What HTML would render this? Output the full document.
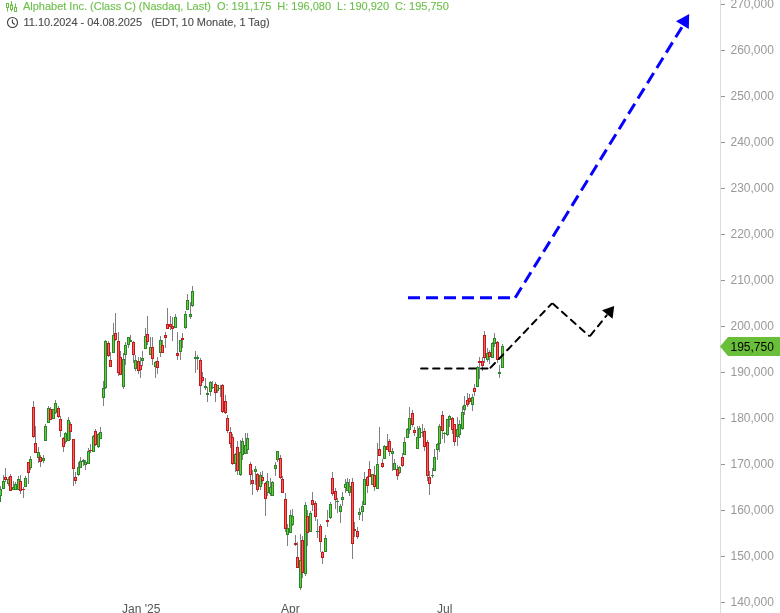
<!DOCTYPE html>
<html lang="de"><head><meta charset="utf-8"><title>Alphabet Inc. (Class C) Chart</title>
<style>
html,body{margin:0;padding:0;background:#fff;}
body{width:780px;height:613px;overflow:hidden;position:relative;font-family:"Liberation Sans",Arial,sans-serif;font-size:12px;}
.t{position:absolute;white-space:pre;line-height:14px;font-size:11px;letter-spacing:-0.012px;-webkit-text-stroke:0.12px currentColor;}
.yl{position:absolute;left:730.5px;line-height:14px;color:#999;white-space:pre;}
.xl{position:absolute;top:602px;line-height:14px;color:#555;white-space:pre;transform:translateX(-50%);}
</style></head><body>
<svg width="780" height="613" viewBox="0 0 780 613" style="position:absolute;left:0;top:0"><rect width="780" height="613" fill="#fff"/><rect x="720" y="0" width="1" height="613" fill="#dcdcdc"/><rect x="721" y="4" width="4" height="1" fill="#999"/><rect x="721" y="50" width="4" height="1" fill="#999"/><rect x="721" y="96" width="4" height="1" fill="#999"/><rect x="721" y="142" width="4" height="1" fill="#999"/><rect x="721" y="188" width="4" height="1" fill="#999"/><rect x="721" y="234" width="4" height="1" fill="#999"/><rect x="721" y="280" width="4" height="1" fill="#999"/><rect x="721" y="326" width="4" height="1" fill="#999"/><rect x="721" y="372" width="4" height="1" fill="#999"/><rect x="721" y="418" width="4" height="1" fill="#999"/><rect x="721" y="464" width="4" height="1" fill="#999"/><rect x="721" y="510" width="4" height="1" fill="#999"/><rect x="721" y="556" width="4" height="1" fill="#999"/><rect x="721" y="602" width="4" height="1" fill="#999"/><g shape-rendering="auto"><g id="candles" shape-rendering="crispEdges"><rect x="0" y="496" width="1" height="6" fill="#27862c"/><rect x="0" y="486" width="1" height="10" fill="#808080"/><rect x="-1" y="489" width="3" height="7" fill="#27862c"/><rect x="0" y="490" width="1" height="5" fill="#6fc839"/><rect x="3" y="475" width="1" height="14" fill="#808080"/><rect x="2" y="481" width="3" height="8" fill="#27862c"/><rect x="3" y="482" width="1" height="6" fill="#6fc839"/><rect x="8" y="477" width="1" height="9" fill="#808080"/><rect x="7" y="479" width="3" height="5" fill="#27862c"/><rect x="8" y="480" width="1" height="3" fill="#6fc839"/><rect x="13" y="481" width="1" height="9" fill="#808080"/><rect x="12" y="487" width="3" height="3" fill="#27862c"/><rect x="13" y="488" width="1" height="1" fill="#6fc839"/><rect x="15" y="482" width="1" height="8" fill="#808080"/><rect x="14" y="484" width="3" height="6" fill="#27862c"/><rect x="15" y="485" width="1" height="4" fill="#6fc839"/><rect x="18" y="476" width="1" height="14" fill="#808080"/><rect x="17" y="479" width="3" height="11" fill="#27862c"/><rect x="18" y="480" width="1" height="9" fill="#6fc839"/><rect x="25" y="476" width="1" height="11" fill="#808080"/><rect x="24" y="478" width="3" height="9" fill="#27862c"/><rect x="25" y="479" width="1" height="7" fill="#6fc839"/><rect x="30" y="456" width="1" height="14" fill="#808080"/><rect x="29" y="459" width="3" height="9" fill="#27862c"/><rect x="30" y="460" width="1" height="7" fill="#6fc839"/><rect x="38" y="447" width="1" height="16" fill="#808080"/><rect x="37" y="452" width="3" height="6" fill="#27862c"/><rect x="38" y="453" width="1" height="4" fill="#6fc839"/><rect x="43" y="455" width="1" height="8" fill="#808080"/><rect x="42" y="458" width="3" height="3" fill="#27862c"/><rect x="43" y="459" width="1" height="1" fill="#6fc839"/><rect x="45" y="424" width="1" height="17" fill="#808080"/><rect x="44" y="426" width="3" height="15" fill="#27862c"/><rect x="45" y="427" width="1" height="13" fill="#6fc839"/><rect x="48" y="406" width="1" height="17" fill="#808080"/><rect x="47" y="408" width="3" height="15" fill="#27862c"/><rect x="48" y="409" width="1" height="13" fill="#6fc839"/><rect x="53" y="409" width="1" height="10" fill="#808080"/><rect x="52" y="409" width="3" height="10" fill="#27862c"/><rect x="53" y="410" width="1" height="8" fill="#6fc839"/><rect x="55" y="400" width="1" height="14" fill="#808080"/><rect x="54" y="403" width="3" height="10" fill="#27862c"/><rect x="55" y="404" width="1" height="8" fill="#6fc839"/><rect x="65" y="432" width="1" height="12" fill="#808080"/><rect x="64" y="433" width="3" height="9" fill="#27862c"/><rect x="65" y="434" width="1" height="7" fill="#6fc839"/><rect x="68" y="417" width="1" height="24" fill="#808080"/><rect x="67" y="420" width="3" height="21" fill="#27862c"/><rect x="68" y="421" width="1" height="19" fill="#6fc839"/><rect x="78" y="462" width="1" height="14" fill="#808080"/><rect x="77" y="467" width="3" height="8" fill="#27862c"/><rect x="78" y="468" width="1" height="6" fill="#6fc839"/><rect x="80" y="457" width="1" height="11" fill="#808080"/><rect x="79" y="461" width="3" height="7" fill="#27862c"/><rect x="80" y="462" width="1" height="5" fill="#6fc839"/><rect x="83" y="459" width="1" height="7" fill="#808080"/><rect x="82" y="460" width="3" height="2" fill="#27862c"/><rect x="85" y="460" width="1" height="10" fill="#808080"/><rect x="84" y="462" width="3" height="3" fill="#27862c"/><rect x="85" y="463" width="1" height="1" fill="#6fc839"/><rect x="88" y="448" width="1" height="16" fill="#808080"/><rect x="87" y="451" width="3" height="13" fill="#27862c"/><rect x="88" y="452" width="1" height="11" fill="#6fc839"/><rect x="93" y="435" width="1" height="17" fill="#808080"/><rect x="92" y="436" width="3" height="16" fill="#27862c"/><rect x="93" y="437" width="1" height="14" fill="#6fc839"/><rect x="98" y="433" width="1" height="15" fill="#808080"/><rect x="97" y="434" width="3" height="13" fill="#27862c"/><rect x="98" y="435" width="1" height="11" fill="#6fc839"/><rect x="100" y="427" width="1" height="12" fill="#808080"/><rect x="99" y="432" width="3" height="7" fill="#27862c"/><rect x="100" y="433" width="1" height="5" fill="#6fc839"/><rect x="103" y="381" width="1" height="25" fill="#808080"/><rect x="102" y="388" width="3" height="10" fill="#27862c"/><rect x="103" y="389" width="1" height="8" fill="#6fc839"/><rect x="105" y="340" width="1" height="49" fill="#808080"/><rect x="104" y="341" width="3" height="47" fill="#27862c"/><rect x="105" y="342" width="1" height="45" fill="#6fc839"/><rect x="113" y="323" width="1" height="30" fill="#808080"/><rect x="112" y="335" width="3" height="18" fill="#27862c"/><rect x="113" y="336" width="1" height="16" fill="#6fc839"/><rect x="123" y="353" width="1" height="36" fill="#808080"/><rect x="122" y="359" width="3" height="28" fill="#27862c"/><rect x="123" y="360" width="1" height="26" fill="#6fc839"/><rect x="125" y="342" width="1" height="23" fill="#808080"/><rect x="124" y="345" width="3" height="10" fill="#27862c"/><rect x="125" y="346" width="1" height="8" fill="#6fc839"/><rect x="128" y="337" width="1" height="11" fill="#808080"/><rect x="127" y="337" width="3" height="8" fill="#27862c"/><rect x="128" y="338" width="1" height="6" fill="#6fc839"/><rect x="130" y="335" width="1" height="7" fill="#808080"/><rect x="129" y="340" width="3" height="2" fill="#27862c"/><rect x="135" y="355" width="1" height="16" fill="#808080"/><rect x="134" y="360" width="3" height="9" fill="#27862c"/><rect x="135" y="361" width="1" height="7" fill="#6fc839"/><rect x="142" y="351" width="1" height="15" fill="#808080"/><rect x="141" y="358" width="3" height="3" fill="#27862c"/><rect x="142" y="359" width="1" height="1" fill="#6fc839"/><rect x="145" y="328" width="1" height="21" fill="#808080"/><rect x="144" y="336" width="3" height="13" fill="#27862c"/><rect x="145" y="337" width="1" height="11" fill="#6fc839"/><rect x="150" y="337" width="1" height="18" fill="#808080"/><rect x="149" y="347" width="3" height="8" fill="#27862c"/><rect x="150" y="348" width="1" height="6" fill="#6fc839"/><rect x="155" y="361" width="1" height="17" fill="#808080"/><rect x="154" y="362" width="3" height="5" fill="#27862c"/><rect x="155" y="363" width="1" height="3" fill="#6fc839"/><rect x="160" y="336" width="1" height="21" fill="#808080"/><rect x="159" y="340" width="3" height="13" fill="#27862c"/><rect x="160" y="341" width="1" height="11" fill="#6fc839"/><rect x="175" y="314" width="1" height="14" fill="#808080"/><rect x="174" y="317" width="3" height="11" fill="#27862c"/><rect x="175" y="318" width="1" height="9" fill="#6fc839"/><rect x="180" y="340" width="1" height="20" fill="#808080"/><rect x="179" y="340" width="3" height="12" fill="#27862c"/><rect x="180" y="341" width="1" height="10" fill="#6fc839"/><rect x="185" y="311" width="1" height="18" fill="#808080"/><rect x="184" y="314" width="3" height="14" fill="#27862c"/><rect x="185" y="315" width="1" height="12" fill="#6fc839"/><rect x="187" y="294" width="1" height="16" fill="#808080"/><rect x="186" y="300" width="3" height="10" fill="#27862c"/><rect x="187" y="301" width="1" height="8" fill="#6fc839"/><rect x="190" y="302" width="1" height="17" fill="#808080"/><rect x="189" y="314" width="3" height="3" fill="#27862c"/><rect x="190" y="315" width="1" height="1" fill="#6fc839"/><rect x="192" y="286" width="1" height="21" fill="#808080"/><rect x="191" y="291" width="3" height="15" fill="#27862c"/><rect x="192" y="292" width="1" height="13" fill="#6fc839"/><rect x="195" y="351" width="1" height="22" fill="#808080"/><rect x="194" y="357" width="3" height="2" fill="#27862c"/><rect x="197" y="355" width="1" height="15" fill="#808080"/><rect x="196" y="357" width="3" height="2" fill="#27862c"/><rect x="205" y="378" width="1" height="12" fill="#808080"/><rect x="204" y="386" width="3" height="2" fill="#27862c"/><rect x="207" y="387" width="1" height="15" fill="#808080"/><rect x="206" y="393" width="3" height="2" fill="#27862c"/><rect x="210" y="381" width="1" height="15" fill="#808080"/><rect x="209" y="382" width="3" height="10" fill="#27862c"/><rect x="210" y="383" width="1" height="8" fill="#6fc839"/><rect x="212" y="381" width="1" height="8" fill="#808080"/><rect x="211" y="387" width="3" height="1" fill="#27862c"/><rect x="217" y="385" width="1" height="8" fill="#808080"/><rect x="216" y="385" width="3" height="6" fill="#27862c"/><rect x="217" y="386" width="1" height="4" fill="#6fc839"/><rect x="220" y="385" width="1" height="12" fill="#808080"/><rect x="219" y="388" width="3" height="1" fill="#27862c"/><rect x="235" y="453" width="1" height="19" fill="#808080"/><rect x="234" y="454" width="3" height="10" fill="#27862c"/><rect x="235" y="455" width="1" height="8" fill="#6fc839"/><rect x="240" y="440" width="1" height="36" fill="#808080"/><rect x="239" y="452" width="3" height="23" fill="#27862c"/><rect x="240" y="453" width="1" height="21" fill="#6fc839"/><rect x="242" y="438" width="1" height="22" fill="#808080"/><rect x="241" y="441" width="3" height="14" fill="#27862c"/><rect x="242" y="442" width="1" height="12" fill="#6fc839"/><rect x="245" y="433" width="1" height="21" fill="#808080"/><rect x="244" y="445" width="3" height="9" fill="#27862c"/><rect x="245" y="446" width="1" height="7" fill="#6fc839"/><rect x="247" y="433" width="1" height="21" fill="#808080"/><rect x="246" y="438" width="3" height="12" fill="#27862c"/><rect x="247" y="439" width="1" height="10" fill="#6fc839"/><rect x="255" y="466" width="1" height="19" fill="#808080"/><rect x="254" y="469" width="3" height="3" fill="#27862c"/><rect x="255" y="470" width="1" height="1" fill="#6fc839"/><rect x="260" y="472" width="1" height="18" fill="#808080"/><rect x="259" y="475" width="3" height="12" fill="#27862c"/><rect x="260" y="476" width="1" height="10" fill="#6fc839"/><rect x="267" y="473" width="1" height="23" fill="#808080"/><rect x="266" y="481" width="3" height="12" fill="#27862c"/><rect x="267" y="482" width="1" height="10" fill="#6fc839"/><rect x="270" y="478" width="1" height="18" fill="#808080"/><rect x="269" y="487" width="3" height="7" fill="#27862c"/><rect x="270" y="488" width="1" height="5" fill="#6fc839"/><rect x="272" y="481" width="1" height="15" fill="#808080"/><rect x="271" y="482" width="3" height="14" fill="#27862c"/><rect x="272" y="483" width="1" height="12" fill="#6fc839"/><rect x="275" y="462" width="1" height="14" fill="#808080"/><rect x="274" y="465" width="3" height="4" fill="#27862c"/><rect x="275" y="466" width="1" height="2" fill="#6fc839"/><rect x="277" y="451" width="1" height="11" fill="#808080"/><rect x="276" y="451" width="3" height="9" fill="#27862c"/><rect x="277" y="452" width="1" height="7" fill="#6fc839"/><rect x="287" y="524" width="1" height="22" fill="#808080"/><rect x="286" y="528" width="3" height="7" fill="#27862c"/><rect x="287" y="529" width="1" height="5" fill="#6fc839"/><rect x="290" y="510" width="1" height="23" fill="#808080"/><rect x="289" y="515" width="3" height="18" fill="#27862c"/><rect x="290" y="516" width="1" height="16" fill="#6fc839"/><rect x="292" y="509" width="1" height="17" fill="#808080"/><rect x="291" y="516" width="3" height="9" fill="#27862c"/><rect x="292" y="517" width="1" height="7" fill="#6fc839"/><rect x="300" y="534" width="1" height="56" fill="#808080"/><rect x="299" y="560" width="3" height="28" fill="#27862c"/><rect x="300" y="561" width="1" height="26" fill="#6fc839"/><rect x="305" y="502" width="1" height="74" fill="#808080"/><rect x="304" y="505" width="3" height="69" fill="#27862c"/><rect x="305" y="506" width="1" height="67" fill="#6fc839"/><rect x="310" y="511" width="1" height="21" fill="#808080"/><rect x="309" y="513" width="3" height="19" fill="#27862c"/><rect x="310" y="514" width="1" height="17" fill="#6fc839"/><rect x="317" y="519" width="1" height="19" fill="#808080"/><rect x="316" y="531" width="3" height="1" fill="#27862c"/><rect x="325" y="535" width="1" height="17" fill="#808080"/><rect x="324" y="538" width="3" height="14" fill="#27862c"/><rect x="325" y="539" width="1" height="12" fill="#6fc839"/><rect x="330" y="502" width="1" height="17" fill="#808080"/><rect x="329" y="504" width="3" height="14" fill="#27862c"/><rect x="330" y="505" width="1" height="12" fill="#6fc839"/><rect x="337" y="498" width="1" height="15" fill="#808080"/><rect x="336" y="501" width="3" height="1" fill="#27862c"/><rect x="340" y="504" width="1" height="19" fill="#808080"/><rect x="339" y="506" width="3" height="6" fill="#27862c"/><rect x="340" y="507" width="1" height="4" fill="#6fc839"/><rect x="342" y="492" width="1" height="14" fill="#808080"/><rect x="341" y="497" width="3" height="3" fill="#27862c"/><rect x="342" y="498" width="1" height="1" fill="#6fc839"/><rect x="345" y="479" width="1" height="14" fill="#808080"/><rect x="344" y="484" width="3" height="4" fill="#27862c"/><rect x="345" y="485" width="1" height="2" fill="#6fc839"/><rect x="347" y="478" width="1" height="13" fill="#808080"/><rect x="346" y="482" width="3" height="9" fill="#27862c"/><rect x="347" y="483" width="1" height="7" fill="#6fc839"/><rect x="349" y="479" width="1" height="17" fill="#808080"/><rect x="348" y="486" width="3" height="7" fill="#27862c"/><rect x="349" y="487" width="1" height="5" fill="#6fc839"/><rect x="359" y="508" width="1" height="12" fill="#808080"/><rect x="358" y="512" width="3" height="3" fill="#27862c"/><rect x="359" y="513" width="1" height="1" fill="#6fc839"/><rect x="362" y="501" width="1" height="20" fill="#808080"/><rect x="361" y="506" width="3" height="6" fill="#27862c"/><rect x="362" y="507" width="1" height="4" fill="#6fc839"/><rect x="364" y="472" width="1" height="33" fill="#808080"/><rect x="363" y="479" width="3" height="26" fill="#27862c"/><rect x="364" y="480" width="1" height="24" fill="#6fc839"/><rect x="372" y="474" width="1" height="11" fill="#808080"/><rect x="371" y="474" width="3" height="11" fill="#27862c"/><rect x="372" y="475" width="1" height="9" fill="#6fc839"/><rect x="377" y="443" width="1" height="46" fill="#808080"/><rect x="376" y="464" width="3" height="25" fill="#27862c"/><rect x="377" y="465" width="1" height="23" fill="#6fc839"/><rect x="384" y="445" width="1" height="14" fill="#808080"/><rect x="383" y="446" width="3" height="13" fill="#27862c"/><rect x="384" y="447" width="1" height="11" fill="#6fc839"/><rect x="392" y="448" width="1" height="23" fill="#808080"/><rect x="391" y="451" width="3" height="3" fill="#27862c"/><rect x="392" y="452" width="1" height="1" fill="#6fc839"/><rect x="394" y="459" width="1" height="11" fill="#808080"/><rect x="393" y="463" width="3" height="7" fill="#27862c"/><rect x="394" y="464" width="1" height="5" fill="#6fc839"/><rect x="399" y="466" width="1" height="8" fill="#808080"/><rect x="398" y="467" width="3" height="6" fill="#27862c"/><rect x="399" y="468" width="1" height="4" fill="#6fc839"/><rect x="404" y="437" width="1" height="18" fill="#808080"/><rect x="403" y="442" width="3" height="13" fill="#27862c"/><rect x="404" y="443" width="1" height="11" fill="#6fc839"/><rect x="407" y="428" width="1" height="10" fill="#808080"/><rect x="406" y="429" width="3" height="9" fill="#27862c"/><rect x="407" y="430" width="1" height="7" fill="#6fc839"/><rect x="409" y="407" width="1" height="27" fill="#808080"/><rect x="408" y="418" width="3" height="12" fill="#27862c"/><rect x="409" y="419" width="1" height="10" fill="#6fc839"/><rect x="417" y="426" width="1" height="23" fill="#808080"/><rect x="416" y="437" width="3" height="12" fill="#27862c"/><rect x="417" y="438" width="1" height="10" fill="#6fc839"/><rect x="419" y="426" width="1" height="12" fill="#808080"/><rect x="418" y="428" width="3" height="10" fill="#27862c"/><rect x="419" y="429" width="1" height="8" fill="#6fc839"/><rect x="422" y="424" width="1" height="13" fill="#808080"/><rect x="421" y="432" width="3" height="1" fill="#27862c"/><rect x="432" y="468" width="1" height="10" fill="#808080"/><rect x="431" y="475" width="3" height="1" fill="#27862c"/><rect x="434" y="449" width="1" height="22" fill="#808080"/><rect x="433" y="457" width="3" height="14" fill="#27862c"/><rect x="434" y="458" width="1" height="12" fill="#6fc839"/><rect x="437" y="443" width="1" height="17" fill="#808080"/><rect x="436" y="444" width="3" height="6" fill="#27862c"/><rect x="437" y="445" width="1" height="4" fill="#6fc839"/><rect x="439" y="424" width="1" height="28" fill="#808080"/><rect x="438" y="426" width="3" height="18" fill="#27862c"/><rect x="439" y="427" width="1" height="16" fill="#6fc839"/><rect x="444" y="432" width="1" height="11" fill="#808080"/><rect x="443" y="433" width="3" height="1" fill="#27862c"/><rect x="447" y="419" width="1" height="17" fill="#808080"/><rect x="446" y="419" width="3" height="16" fill="#27862c"/><rect x="447" y="420" width="1" height="14" fill="#6fc839"/><rect x="449" y="415" width="1" height="12" fill="#808080"/><rect x="448" y="416" width="3" height="4" fill="#27862c"/><rect x="449" y="417" width="1" height="2" fill="#6fc839"/><rect x="457" y="417" width="1" height="29" fill="#808080"/><rect x="456" y="429" width="3" height="8" fill="#27862c"/><rect x="457" y="430" width="1" height="6" fill="#6fc839"/><rect x="459" y="420" width="1" height="18" fill="#808080"/><rect x="458" y="424" width="3" height="11" fill="#27862c"/><rect x="459" y="425" width="1" height="9" fill="#6fc839"/><rect x="462" y="406" width="1" height="24" fill="#808080"/><rect x="461" y="412" width="3" height="17" fill="#27862c"/><rect x="462" y="413" width="1" height="15" fill="#6fc839"/><rect x="464" y="396" width="1" height="19" fill="#808080"/><rect x="463" y="405" width="3" height="5" fill="#27862c"/><rect x="464" y="406" width="1" height="3" fill="#6fc839"/><rect x="472" y="394" width="1" height="17" fill="#808080"/><rect x="471" y="397" width="3" height="8" fill="#27862c"/><rect x="472" y="398" width="1" height="6" fill="#6fc839"/><rect x="477" y="366" width="1" height="21" fill="#808080"/><rect x="476" y="367" width="3" height="20" fill="#27862c"/><rect x="477" y="368" width="1" height="18" fill="#6fc839"/><rect x="487" y="348" width="1" height="14" fill="#808080"/><rect x="486" y="353" width="3" height="7" fill="#27862c"/><rect x="487" y="354" width="1" height="5" fill="#6fc839"/><rect x="492" y="342" width="1" height="16" fill="#808080"/><rect x="491" y="343" width="3" height="15" fill="#27862c"/><rect x="492" y="344" width="1" height="13" fill="#6fc839"/><rect x="494" y="333" width="1" height="14" fill="#808080"/><rect x="493" y="338" width="3" height="6" fill="#27862c"/><rect x="494" y="339" width="1" height="4" fill="#6fc839"/><rect x="499" y="365" width="1" height="13" fill="#808080"/><rect x="498" y="372" width="3" height="2" fill="#27862c"/><rect x="502" y="344" width="1" height="24" fill="#808080"/><rect x="501" y="346" width="3" height="22" fill="#27862c"/><rect x="502" y="347" width="1" height="20" fill="#6fc839"/><rect x="5" y="468" width="1" height="14" fill="#808080"/><rect x="4" y="477" width="3" height="3" fill="#bf1b1b"/><rect x="5" y="478" width="1" height="1" fill="#f66060"/><rect x="10" y="474" width="1" height="17" fill="#808080"/><rect x="9" y="476" width="3" height="15" fill="#bf1b1b"/><rect x="10" y="477" width="1" height="13" fill="#f66060"/><rect x="20" y="475" width="1" height="19" fill="#808080"/><rect x="19" y="481" width="3" height="10" fill="#bf1b1b"/><rect x="20" y="482" width="1" height="8" fill="#f66060"/><rect x="23" y="487" width="1" height="11" fill="#808080"/><rect x="22" y="489" width="3" height="1" fill="#bf1b1b"/><rect x="28" y="462" width="1" height="22" fill="#808080"/><rect x="27" y="462" width="3" height="11" fill="#bf1b1b"/><rect x="28" y="463" width="1" height="9" fill="#f66060"/><rect x="33" y="401" width="1" height="37" fill="#808080"/><rect x="32" y="407" width="3" height="30" fill="#bf1b1b"/><rect x="33" y="408" width="1" height="28" fill="#f66060"/><rect x="35" y="426" width="1" height="27" fill="#808080"/><rect x="34" y="443" width="3" height="10" fill="#bf1b1b"/><rect x="35" y="444" width="1" height="8" fill="#f66060"/><rect x="40" y="455" width="1" height="12" fill="#808080"/><rect x="39" y="457" width="3" height="5" fill="#bf1b1b"/><rect x="40" y="458" width="1" height="3" fill="#f66060"/><rect x="50" y="407" width="1" height="13" fill="#808080"/><rect x="49" y="409" width="3" height="11" fill="#bf1b1b"/><rect x="50" y="410" width="1" height="9" fill="#f66060"/><rect x="58" y="406" width="1" height="12" fill="#808080"/><rect x="57" y="408" width="3" height="9" fill="#bf1b1b"/><rect x="58" y="409" width="1" height="7" fill="#f66060"/><rect x="60" y="416" width="1" height="21" fill="#808080"/><rect x="59" y="419" width="3" height="12" fill="#bf1b1b"/><rect x="60" y="420" width="1" height="10" fill="#f66060"/><rect x="63" y="437" width="1" height="15" fill="#808080"/><rect x="62" y="438" width="3" height="9" fill="#bf1b1b"/><rect x="63" y="439" width="1" height="7" fill="#f66060"/><rect x="70" y="422" width="1" height="18" fill="#808080"/><rect x="69" y="424" width="3" height="8" fill="#bf1b1b"/><rect x="70" y="425" width="1" height="6" fill="#f66060"/><rect x="73" y="439" width="1" height="47" fill="#808080"/><rect x="72" y="439" width="3" height="30" fill="#bf1b1b"/><rect x="73" y="440" width="1" height="28" fill="#f66060"/><rect x="75" y="472" width="1" height="12" fill="#808080"/><rect x="74" y="477" width="3" height="4" fill="#bf1b1b"/><rect x="75" y="478" width="1" height="2" fill="#f66060"/><rect x="90" y="444" width="1" height="9" fill="#808080"/><rect x="89" y="450" width="3" height="1" fill="#bf1b1b"/><rect x="95" y="429" width="1" height="17" fill="#808080"/><rect x="94" y="431" width="3" height="14" fill="#bf1b1b"/><rect x="95" y="432" width="1" height="12" fill="#f66060"/><rect x="108" y="341" width="1" height="16" fill="#808080"/><rect x="107" y="343" width="3" height="13" fill="#bf1b1b"/><rect x="108" y="344" width="1" height="11" fill="#f66060"/><rect x="110" y="352" width="1" height="15" fill="#808080"/><rect x="109" y="360" width="3" height="7" fill="#bf1b1b"/><rect x="110" y="361" width="1" height="5" fill="#f66060"/><rect x="115" y="313" width="1" height="28" fill="#808080"/><rect x="114" y="333" width="3" height="7" fill="#bf1b1b"/><rect x="115" y="334" width="1" height="5" fill="#f66060"/><rect x="118" y="332" width="1" height="44" fill="#808080"/><rect x="117" y="341" width="3" height="32" fill="#bf1b1b"/><rect x="118" y="342" width="1" height="30" fill="#f66060"/><rect x="120" y="351" width="1" height="24" fill="#808080"/><rect x="119" y="357" width="3" height="18" fill="#bf1b1b"/><rect x="120" y="358" width="1" height="16" fill="#f66060"/><rect x="133" y="341" width="1" height="22" fill="#808080"/><rect x="132" y="342" width="3" height="13" fill="#bf1b1b"/><rect x="133" y="343" width="1" height="11" fill="#f66060"/><rect x="138" y="357" width="1" height="17" fill="#808080"/><rect x="137" y="361" width="3" height="10" fill="#bf1b1b"/><rect x="138" y="362" width="1" height="8" fill="#f66060"/><rect x="140" y="357" width="1" height="21" fill="#808080"/><rect x="139" y="365" width="3" height="5" fill="#bf1b1b"/><rect x="140" y="366" width="1" height="3" fill="#f66060"/><rect x="147" y="316" width="1" height="29" fill="#808080"/><rect x="146" y="334" width="3" height="8" fill="#bf1b1b"/><rect x="147" y="335" width="1" height="6" fill="#f66060"/><rect x="152" y="337" width="1" height="28" fill="#808080"/><rect x="151" y="347" width="3" height="12" fill="#bf1b1b"/><rect x="152" y="348" width="1" height="10" fill="#f66060"/><rect x="157" y="357" width="1" height="17" fill="#808080"/><rect x="156" y="361" width="3" height="7" fill="#bf1b1b"/><rect x="157" y="362" width="1" height="5" fill="#f66060"/><rect x="162" y="340" width="1" height="13" fill="#808080"/><rect x="161" y="345" width="3" height="8" fill="#bf1b1b"/><rect x="162" y="346" width="1" height="6" fill="#f66060"/><rect x="165" y="332" width="1" height="16" fill="#808080"/><rect x="164" y="335" width="3" height="3" fill="#bf1b1b"/><rect x="165" y="336" width="1" height="1" fill="#f66060"/><rect x="167" y="308" width="1" height="21" fill="#808080"/><rect x="166" y="324" width="3" height="5" fill="#bf1b1b"/><rect x="167" y="325" width="1" height="3" fill="#f66060"/><rect x="170" y="316" width="1" height="14" fill="#808080"/><rect x="169" y="324" width="3" height="3" fill="#bf1b1b"/><rect x="170" y="325" width="1" height="1" fill="#f66060"/><rect x="172" y="317" width="1" height="24" fill="#808080"/><rect x="171" y="326" width="3" height="3" fill="#bf1b1b"/><rect x="172" y="327" width="1" height="1" fill="#f66060"/><rect x="177" y="332" width="1" height="28" fill="#808080"/><rect x="176" y="353" width="3" height="3" fill="#bf1b1b"/><rect x="177" y="354" width="1" height="1" fill="#f66060"/><rect x="182" y="333" width="1" height="15" fill="#808080"/><rect x="181" y="338" width="3" height="2" fill="#bf1b1b"/><rect x="200" y="358" width="1" height="37" fill="#808080"/><rect x="199" y="360" width="3" height="26" fill="#bf1b1b"/><rect x="200" y="361" width="1" height="24" fill="#f66060"/><rect x="202" y="372" width="1" height="11" fill="#808080"/><rect x="201" y="377" width="3" height="4" fill="#bf1b1b"/><rect x="202" y="378" width="1" height="2" fill="#f66060"/><rect x="215" y="382" width="1" height="20" fill="#808080"/><rect x="214" y="384" width="3" height="9" fill="#bf1b1b"/><rect x="215" y="385" width="1" height="7" fill="#f66060"/><rect x="222" y="384" width="1" height="29" fill="#808080"/><rect x="221" y="385" width="3" height="27" fill="#bf1b1b"/><rect x="222" y="386" width="1" height="25" fill="#f66060"/><rect x="225" y="395" width="1" height="19" fill="#808080"/><rect x="224" y="401" width="3" height="12" fill="#bf1b1b"/><rect x="225" y="402" width="1" height="10" fill="#f66060"/><rect x="227" y="415" width="1" height="18" fill="#808080"/><rect x="226" y="418" width="3" height="13" fill="#bf1b1b"/><rect x="227" y="419" width="1" height="11" fill="#f66060"/><rect x="230" y="427" width="1" height="21" fill="#808080"/><rect x="229" y="432" width="3" height="12" fill="#bf1b1b"/><rect x="230" y="433" width="1" height="10" fill="#f66060"/><rect x="232" y="434" width="1" height="31" fill="#808080"/><rect x="231" y="437" width="3" height="27" fill="#bf1b1b"/><rect x="232" y="438" width="1" height="25" fill="#f66060"/><rect x="237" y="441" width="1" height="34" fill="#808080"/><rect x="236" y="447" width="3" height="24" fill="#bf1b1b"/><rect x="237" y="448" width="1" height="22" fill="#f66060"/><rect x="250" y="462" width="1" height="23" fill="#808080"/><rect x="249" y="464" width="3" height="11" fill="#bf1b1b"/><rect x="250" y="465" width="1" height="9" fill="#f66060"/><rect x="252" y="470" width="1" height="25" fill="#808080"/><rect x="251" y="480" width="3" height="4" fill="#bf1b1b"/><rect x="252" y="481" width="1" height="2" fill="#f66060"/><rect x="257" y="473" width="1" height="19" fill="#808080"/><rect x="256" y="474" width="3" height="16" fill="#bf1b1b"/><rect x="257" y="475" width="1" height="14" fill="#f66060"/><rect x="262" y="471" width="1" height="13" fill="#808080"/><rect x="261" y="477" width="3" height="4" fill="#bf1b1b"/><rect x="262" y="478" width="1" height="2" fill="#f66060"/><rect x="265" y="482" width="1" height="34" fill="#808080"/><rect x="264" y="483" width="3" height="16" fill="#bf1b1b"/><rect x="265" y="484" width="1" height="14" fill="#f66060"/><rect x="280" y="455" width="1" height="24" fill="#808080"/><rect x="279" y="458" width="3" height="20" fill="#bf1b1b"/><rect x="280" y="459" width="1" height="18" fill="#f66060"/><rect x="282" y="476" width="1" height="17" fill="#808080"/><rect x="281" y="479" width="3" height="14" fill="#bf1b1b"/><rect x="282" y="480" width="1" height="12" fill="#f66060"/><rect x="285" y="493" width="1" height="39" fill="#808080"/><rect x="284" y="499" width="3" height="30" fill="#bf1b1b"/><rect x="285" y="500" width="1" height="28" fill="#f66060"/><rect x="295" y="535" width="1" height="11" fill="#808080"/><rect x="294" y="543" width="3" height="2" fill="#bf1b1b"/><rect x="297" y="542" width="1" height="26" fill="#808080"/><rect x="296" y="557" width="3" height="11" fill="#bf1b1b"/><rect x="297" y="558" width="1" height="9" fill="#f66060"/><rect x="302" y="536" width="1" height="42" fill="#808080"/><rect x="301" y="540" width="3" height="33" fill="#bf1b1b"/><rect x="302" y="541" width="1" height="31" fill="#f66060"/><rect x="307" y="510" width="1" height="36" fill="#808080"/><rect x="306" y="516" width="3" height="17" fill="#bf1b1b"/><rect x="307" y="517" width="1" height="15" fill="#f66060"/><rect x="312" y="492" width="1" height="19" fill="#808080"/><rect x="311" y="500" width="3" height="5" fill="#bf1b1b"/><rect x="312" y="501" width="1" height="3" fill="#f66060"/><rect x="315" y="501" width="1" height="20" fill="#808080"/><rect x="314" y="503" width="3" height="14" fill="#bf1b1b"/><rect x="315" y="504" width="1" height="12" fill="#f66060"/><rect x="320" y="524" width="1" height="28" fill="#808080"/><rect x="319" y="526" width="3" height="16" fill="#bf1b1b"/><rect x="320" y="527" width="1" height="14" fill="#f66060"/><rect x="322" y="551" width="1" height="13" fill="#808080"/><rect x="321" y="552" width="3" height="6" fill="#bf1b1b"/><rect x="322" y="553" width="1" height="4" fill="#f66060"/><rect x="327" y="510" width="1" height="17" fill="#808080"/><rect x="326" y="520" width="3" height="2" fill="#bf1b1b"/><rect x="332" y="472" width="1" height="24" fill="#808080"/><rect x="331" y="478" width="3" height="16" fill="#bf1b1b"/><rect x="332" y="479" width="1" height="14" fill="#f66060"/><rect x="335" y="488" width="1" height="21" fill="#808080"/><rect x="334" y="491" width="3" height="9" fill="#bf1b1b"/><rect x="335" y="492" width="1" height="7" fill="#f66060"/><rect x="352" y="478" width="1" height="81" fill="#808080"/><rect x="351" y="482" width="3" height="62" fill="#bf1b1b"/><rect x="352" y="483" width="1" height="60" fill="#f66060"/><rect x="354" y="522" width="1" height="15" fill="#808080"/><rect x="353" y="529" width="3" height="2" fill="#bf1b1b"/><rect x="357" y="527" width="1" height="12" fill="#808080"/><rect x="356" y="531" width="3" height="6" fill="#bf1b1b"/><rect x="357" y="532" width="1" height="4" fill="#f66060"/><rect x="367" y="476" width="1" height="17" fill="#808080"/><rect x="366" y="477" width="3" height="9" fill="#bf1b1b"/><rect x="367" y="478" width="1" height="7" fill="#f66060"/><rect x="369" y="461" width="1" height="16" fill="#808080"/><rect x="368" y="469" width="3" height="8" fill="#bf1b1b"/><rect x="369" y="470" width="1" height="6" fill="#f66060"/><rect x="374" y="466" width="1" height="25" fill="#808080"/><rect x="373" y="475" width="3" height="12" fill="#bf1b1b"/><rect x="374" y="476" width="1" height="10" fill="#f66060"/><rect x="379" y="427" width="1" height="29" fill="#808080"/><rect x="378" y="449" width="3" height="7" fill="#bf1b1b"/><rect x="379" y="450" width="1" height="5" fill="#f66060"/><rect x="382" y="459" width="1" height="9" fill="#808080"/><rect x="381" y="463" width="3" height="4" fill="#bf1b1b"/><rect x="382" y="464" width="1" height="2" fill="#f66060"/><rect x="387" y="434" width="1" height="16" fill="#808080"/><rect x="386" y="446" width="3" height="4" fill="#bf1b1b"/><rect x="387" y="447" width="1" height="2" fill="#f66060"/><rect x="389" y="439" width="1" height="17" fill="#808080"/><rect x="388" y="441" width="3" height="11" fill="#bf1b1b"/><rect x="389" y="442" width="1" height="9" fill="#f66060"/><rect x="397" y="465" width="1" height="15" fill="#808080"/><rect x="396" y="469" width="3" height="7" fill="#bf1b1b"/><rect x="397" y="470" width="1" height="5" fill="#f66060"/><rect x="402" y="453" width="1" height="14" fill="#808080"/><rect x="401" y="457" width="3" height="9" fill="#bf1b1b"/><rect x="402" y="458" width="1" height="7" fill="#f66060"/><rect x="412" y="410" width="1" height="17" fill="#808080"/><rect x="411" y="413" width="3" height="12" fill="#bf1b1b"/><rect x="412" y="414" width="1" height="10" fill="#f66060"/><rect x="414" y="427" width="1" height="9" fill="#808080"/><rect x="413" y="430" width="3" height="3" fill="#bf1b1b"/><rect x="414" y="431" width="1" height="1" fill="#f66060"/><rect x="424" y="428" width="1" height="23" fill="#808080"/><rect x="423" y="431" width="3" height="16" fill="#bf1b1b"/><rect x="424" y="432" width="1" height="14" fill="#f66060"/><rect x="427" y="440" width="1" height="41" fill="#808080"/><rect x="426" y="442" width="3" height="34" fill="#bf1b1b"/><rect x="427" y="443" width="1" height="32" fill="#f66060"/><rect x="429" y="471" width="1" height="24" fill="#808080"/><rect x="428" y="477" width="3" height="7" fill="#bf1b1b"/><rect x="429" y="478" width="1" height="5" fill="#f66060"/><rect x="442" y="411" width="1" height="28" fill="#808080"/><rect x="441" y="415" width="3" height="16" fill="#bf1b1b"/><rect x="442" y="416" width="1" height="14" fill="#f66060"/><rect x="452" y="417" width="1" height="17" fill="#808080"/><rect x="451" y="418" width="3" height="12" fill="#bf1b1b"/><rect x="452" y="419" width="1" height="10" fill="#f66060"/><rect x="454" y="424" width="1" height="22" fill="#808080"/><rect x="453" y="424" width="3" height="18" fill="#bf1b1b"/><rect x="454" y="425" width="1" height="16" fill="#f66060"/><rect x="467" y="393" width="1" height="14" fill="#808080"/><rect x="466" y="400" width="3" height="5" fill="#bf1b1b"/><rect x="467" y="401" width="1" height="3" fill="#f66060"/><rect x="469" y="394" width="1" height="10" fill="#808080"/><rect x="468" y="398" width="3" height="4" fill="#bf1b1b"/><rect x="469" y="399" width="1" height="2" fill="#f66060"/><rect x="474" y="384" width="1" height="12" fill="#808080"/><rect x="473" y="388" width="3" height="4" fill="#bf1b1b"/><rect x="474" y="389" width="1" height="2" fill="#f66060"/><rect x="479" y="357" width="1" height="22" fill="#808080"/><rect x="478" y="361" width="3" height="2" fill="#bf1b1b"/><rect x="482" y="357" width="1" height="14" fill="#808080"/><rect x="481" y="361" width="3" height="5" fill="#bf1b1b"/><rect x="482" y="362" width="1" height="3" fill="#f66060"/><rect x="484" y="331" width="1" height="32" fill="#808080"/><rect x="483" y="335" width="3" height="23" fill="#bf1b1b"/><rect x="484" y="336" width="1" height="21" fill="#f66060"/><rect x="489" y="350" width="1" height="14" fill="#808080"/><rect x="488" y="352" width="3" height="5" fill="#bf1b1b"/><rect x="489" y="353" width="1" height="3" fill="#f66060"/><rect x="497" y="341" width="1" height="22" fill="#808080"/><rect x="496" y="342" width="3" height="18" fill="#bf1b1b"/><rect x="497" y="343" width="1" height="16" fill="#f66060"/></g><g fill="none" stroke="#000" stroke-width="2" stroke-dasharray="6.4 5.6" stroke-linecap="round"><path d="M421.10 368.40 L488.90 368.40"/><path d="M490.59 367.68 L551.51 303.82"/><path d="M552.95 303.76 L588.95 335.74"/><path d="M590.33 335.62 L606.67 315.34"/></g><polygon points="614.2,306.0 612.6,318.8 602.0,310.3" fill="#000"/><path d="M408 297.8 H514" fill="none" stroke="#0600ff" stroke-width="3" stroke-dasharray="12 6"/><path d="M515.2 297.8 L681.9 27.2" fill="none" stroke="#0600ff" stroke-width="3" stroke-dasharray="12 6"/><polygon points="689.2,14.0 688.8,29.0 676.0,21.2" fill="#0600ff"/></g><polygon points="720,346.5 728,337 780,337 780,356 728,356" fill="#6abf3a"/><g fill="none" stroke="#6cc04a" stroke-width="1"><rect x="6.5" y="3.5" width="2" height="4"/><path d="M7.5 7.5V11.5"/><rect x="10.5" y="5" width="2" height="4.5"/><path d="M11.5 1V5M11.5 9.5V11.5"/><rect x="14.5" y="7.5" width="2" height="4"/><path d="M15.5 3.5V7.5"/></g><g fill="none" stroke="#3c3c3c" stroke-width="1.1"><circle cx="12.5" cy="22.5" r="5"/><path d="M12.4 19.9V22.7L14.6 24.3" stroke-linecap="round"/></g></svg>
<div class="t" style="left:23px;top:-1px;color:#6cc04a">Alphabet Inc. (Class C) (Nasdaq, Last)  O: 191,175  H: 196,080  L: 190,920  C: 195,750</div>
<div class="t" style="left:23.5px;top:15px;color:#4d4d4d;letter-spacing:-0.022px">11.10.2024 - 04.08.2025   (EDT, 10 Monate, 1 Tag)</div>
<div class="yl" style="top:-3px">270,000</div><div class="yl" style="top:43px">260,000</div><div class="yl" style="top:89px">250,000</div><div class="yl" style="top:135px">240,000</div><div class="yl" style="top:181px">230,000</div><div class="yl" style="top:227px">220,000</div><div class="yl" style="top:273px">210,000</div><div class="yl" style="top:319px">200,000</div><div class="yl" style="top:365px">190,000</div><div class="yl" style="top:411px">180,000</div><div class="yl" style="top:457px">170,000</div><div class="yl" style="top:503px">160,000</div><div class="yl" style="top:549px">150,000</div><div class="yl" style="top:595px">140,000</div>
<div class="yl" style="top:339.5px;color:#000">195,750</div>
<div class="xl" style="left:141.2px">Jan '25</div>
<div class="xl" style="left:290.4px">Apr</div>
<div class="xl" style="left:444.7px">Jul</div>
</body></html>
